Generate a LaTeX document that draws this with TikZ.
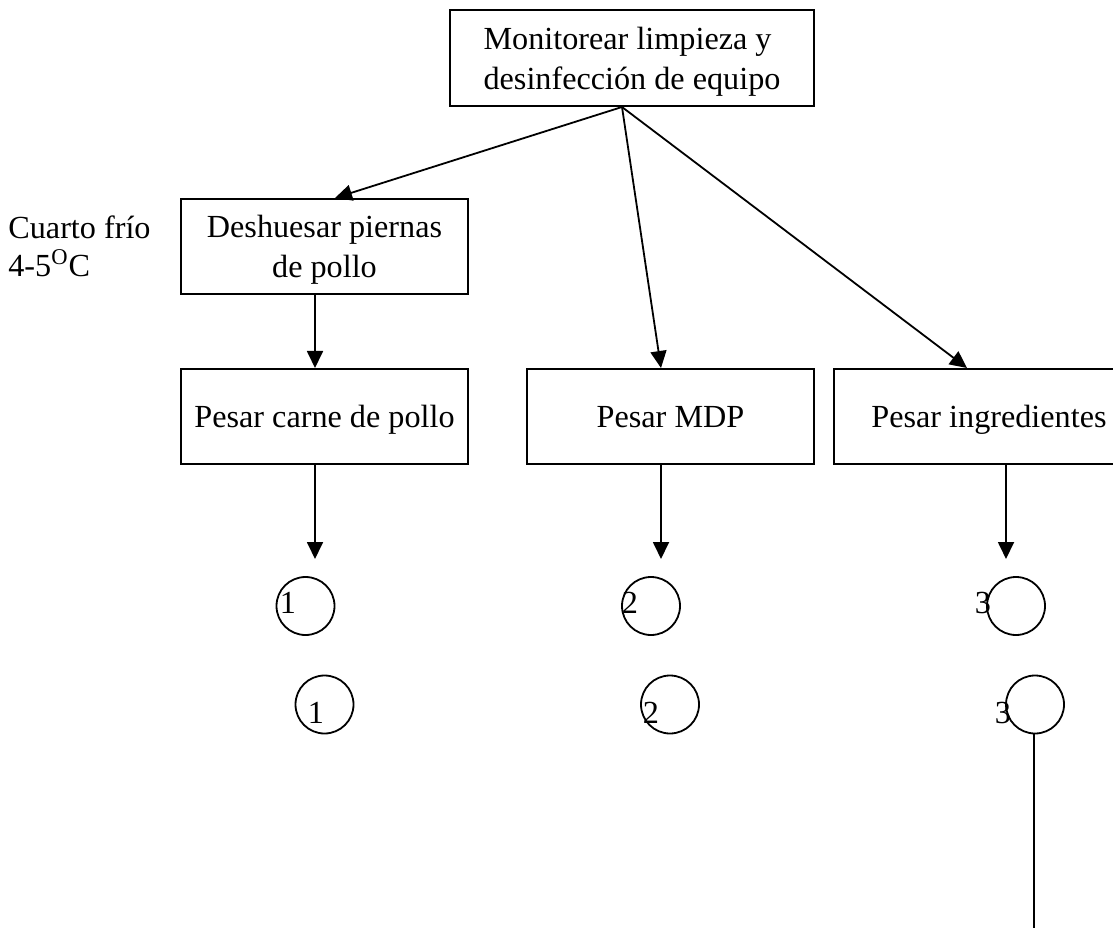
\documentclass[tikz,border=0pt]{standalone}
\usepackage{fontspec}
\setmainfont{Liberation Serif}
\usepackage{tikz}
\usetikzlibrary{arrows.meta}

\begin{document}
\begin{tikzpicture}
    [
    x=0.5pt, y=-0.5pt,
    every node/.style = {font=\fontsize{16.1}{20}\selectfont},
    caja/.style = {draw,line width=1pt,rectangle,minimum width=143.5pt,minimum height=47.5pt,inner sep=0pt,align=center,text depth=0pt},
    circulo/.style = {draw,line width=0.9pt,circle,minimum size=29pt,inner sep=0pt},
    numero/.style = {inner sep=0pt},
    flecha/.style = {line width=0.9pt,-{Triangle[length=8.5pt,width=8pt]}}
    ]
\path[use as bounding box] (0,0) rectangle (1113,930);
\clip (0,0) rectangle (1113,930);

\node[caja,minimum width=182pt,minimum height=48pt,align=left] (mon) at (632,58) {Monitorear limpieza y\\desinfección de equipo};

\node[inner sep=0pt,anchor=base west] (cuarto) at (8,239) {Cuarto frío};
\node[inner sep=0pt,anchor=base west] (temp) at (8,277) {4-5\textsuperscript{O}C};

\node[caja] (des) at (324.5,246.5) {Deshuesar piernas\\de pollo};
\node[caja] (pcp) at (324.5,416.5) {Pesar carne de pollo};
\node[caja] (mdp) at (670.5,416.5) {Pesar MDP};
\node[caja,minimum width=155pt] (ing) at (989,416.5) {Pesar ingredientes};

% conectores
\coordinate (src) at (622,0);
\coordinate (p1) at (335,0);
\coordinate (p3) at (967,0);
\coordinate (k1) at (315,559);
\coordinate (k2) at (661,559);
\coordinate (k3) at (1006,559);
\coordinate (fin) at (1034,928);

\draw[flecha] (mon.south -| src) -- (des.north -| p1);
\draw[flecha] (mon.south -| src) -- (mdp.north -| k2);
\draw[flecha] (mon.south -| src) -- (ing.north -| p3);
\draw[flecha] (des.south -| k1) -- (pcp.north -| k1);
\draw[flecha] (pcp.south -| k1) -- (k1);
\draw[flecha] (mdp.south -| k2) -- (k2);
\draw[flecha] (ing.south -| k3) -- (k3);

% conectores de pagina
\node[circulo] (c1a) at (305.5,606) {};
\node[circulo] (c2a) at (651,606) {};
\node[circulo] (c3a) at (1016,606) {};
\node[circulo] (c1b) at (324.5,704.5) {};
\node[circulo] (c2b) at (670,704.5) {};
\node[circulo] (c3b) at (1035,704.5) {};

\node[numero] (n1a) at (288,603) {1};
\node[numero] (n2a) at (630,603) {2};
\node[numero] (n3a) at (983,603) {3};
\node[numero] (n1b) at (316,713) {1};
\node[numero] (n2b) at (651,713) {2};
\node[numero] (n3b) at (1003,713) {3};

\draw[line width=0.9pt] (c3b.south -| fin) -- (fin);

\end{tikzpicture}
\end{document}
